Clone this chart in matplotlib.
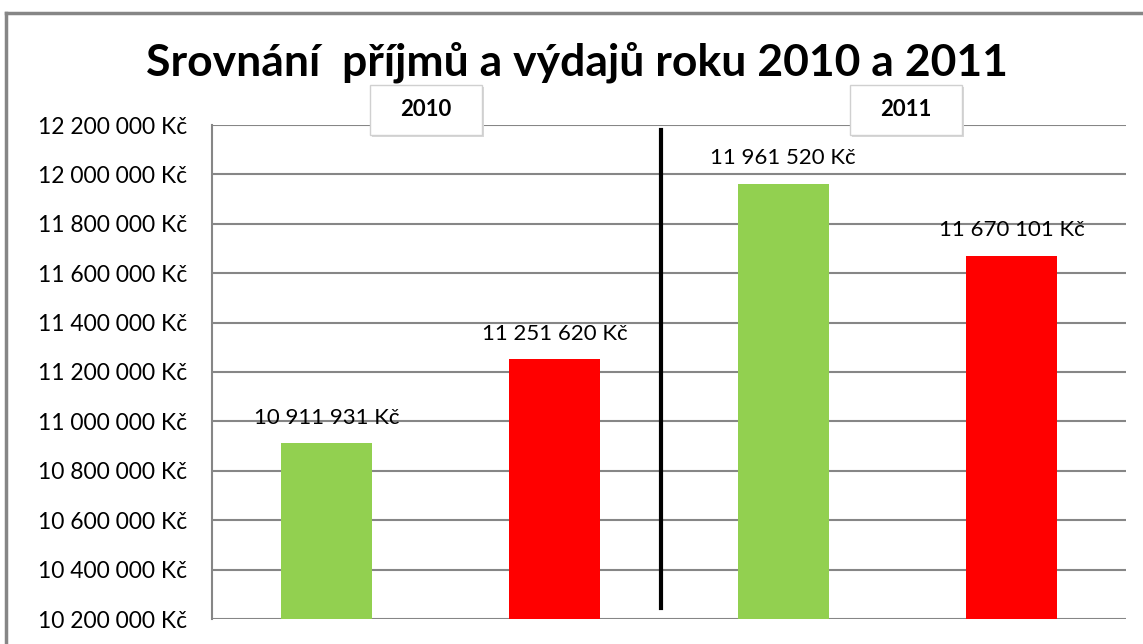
import matplotlib.pyplot as plt
from matplotlib.patches import Rectangle
from matplotlib.ticker import FuncFormatter

plt.rcParams['font.family'] = ['Lato', 'DejaVu Sans']

# data
roky = ['2010', '2011']
kategorie = ['příjmy 2010', 'výdaje 2010', 'příjmy 2011', 'výdaje 2011']
hodnoty = [10911931, 11251620, 11961520, 11670101]
barvy = ['#92D050', '#FF0000', '#92D050', '#FF0000']
y_ticks = list(range(10200000, 12200001, 200000))


def kc(v, pos=None):
    return '{:,} Kč'.format(int(v)).replace(',', ' ')


W, H = 1143, 644
fig = plt.figure(figsize=(W / 100, H / 100), dpi=100)
ax = fig.add_axes([212 / W, 1 - 619 / H, 914 / W, 494 / H])

x = range(len(hodnoty))
bars = ax.bar(x, hodnoty, width=0.4, color=barvy, zorder=2)
for b, v in zip(bars, hodnoty):
    ax.annotate(kc(v), (b.get_x() + b.get_width() / 2, v), xytext=(0, 14),
                textcoords='offset points', ha='center', va='baseline', fontsize=16)

ax.set_xlim(-0.5, 3.5)
ax.set_ylim(y_ticks[0], y_ticks[-1])
ax.set_yticks(y_ticks)
ax.yaxis.set_major_formatter(FuncFormatter(kc))
ax.tick_params(axis='y', length=0, labelsize=16.5, pad=18)
ax.set_xticks([])
ax.grid(axis='y', color='#868686', linewidth=1.5, zorder=0)
for s in ['top', 'right', 'bottom']:
    ax.spines[s].set_visible(False)
ax.spines['left'].set_color('#868686')
ax.spines['left'].set_linewidth(1.5)

# deleni mezi roky
ax.axvline(1.465, ymin=0.022, ymax=0.99, color='black', linewidth=3, zorder=3)

fig.text(0.505, 0.903, 'Srovnání  příjmů a výdajů roku 2010 a 2011',
         ha='center', va='center', fontsize=32, fontweight='bold')

for rok, x0 in zip(roky, [370, 850]):
    # stin
    fig.patches.append(Rectangle(((x0 + 2) / W, 1 - 137 / H), 112 / W, 50 / H,
                                 transform=fig.transFigure, facecolor='#D8D8D8',
                                 edgecolor='none', zorder=4))
    fig.patches.append(Rectangle((x0 / W, 1 - 135 / H), 112 / W, 50 / H,
                                 transform=fig.transFigure, facecolor='white',
                                 edgecolor='#D0D0D0', linewidth=1, zorder=5))
    fig.text((x0 + 56) / W, 1 - 110 / H, rok, ha='center', va='center',
             fontsize=16, fontweight='bold', zorder=6)

# ramecek grafu
fig.add_artist(plt.Line2D([6 / W, 6 / W], [0, 1 - 13 / H],
                          transform=fig.transFigure, color='#868686', linewidth=2.5))
fig.add_artist(plt.Line2D([6 / W, 1], [1 - 13 / H, 1 - 13 / H],
                          transform=fig.transFigure, color='#868686', linewidth=2.5))

fig.savefig('out.png', dpi=100)
